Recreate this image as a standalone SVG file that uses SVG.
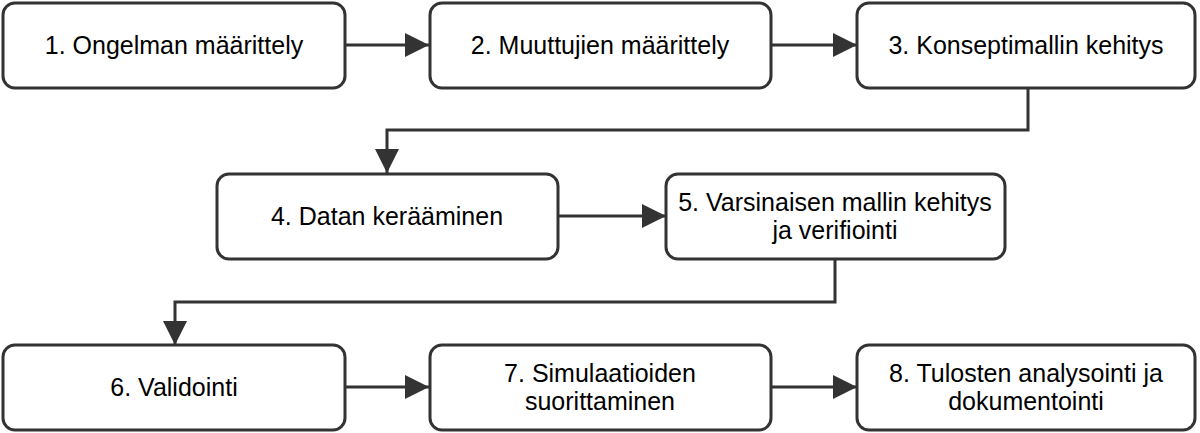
<svg xmlns="http://www.w3.org/2000/svg" width="1200" height="433" viewBox="0 0 1200 433">
<style>
.b{fill:#fff;stroke:#333;stroke-width:3}
.t{font-family:"Liberation Sans",Arial,sans-serif;font-size:25px;fill:#000;text-anchor:middle}
.c{fill:none;stroke:#333;stroke-width:3}
</style>
<defs>
<marker id="m" markerWidth="24" markerHeight="24" refX="24" refY="12" orient="auto" markerUnits="userSpaceOnUse"><path d="M0,0L24,12L0,24z" fill="#333"/></marker></defs>
<rect width="1200" height="433" fill="#fff"/>
<g id="connectors">
<path class="c" d="M345,45H429" marker-end="url(#m)"/>
<path class="c" d="M771,45H857" marker-end="url(#m)"/>
<path class="c" d="M1028,89V130H387V173" marker-end="url(#m)"/>
<path class="c" d="M558,216H666" marker-end="url(#m)"/>
<path class="c" d="M835,260V302H175V345" marker-end="url(#m)"/>
<path class="c" d="M345,387H429" marker-end="url(#m)"/>
<path class="c" d="M771,387H857" marker-end="url(#m)"/>
</g>
<g id="n1"><rect class="b" x="3" y="3" width="342" height="85" rx="12"/><text class="t" x="174" y="54">1. Ongelman määrittely</text></g>
<g id="n2"><rect class="b" x="430" y="3" width="341" height="85" rx="12"/><text class="t" x="600" y="54">2. Muuttujien määrittely</text></g>
<g id="n3"><rect class="b" x="857" y="3" width="338" height="85" rx="12"/><text class="t" x="1026" y="54">3. Konseptimallin kehitys</text></g>
<g id="n4"><rect class="b" x="217" y="174" width="341" height="85" rx="12"/><text class="t" x="387" y="225">4. Datan kerääminen</text></g>
<g id="n5"><rect class="b" x="666" y="174" width="339" height="85" rx="12"/><text class="t" x="835" y="211">5. Varsinaisen mallin kehitys</text><text class="t" x="835" y="239">ja verifiointi</text></g>
<g id="n6"><rect class="b" x="3" y="345" width="342" height="85" rx="12"/><text class="t" x="174" y="396">6. Validointi</text></g>
<g id="n7"><rect class="b" x="430" y="345" width="341" height="85" rx="12"/><text class="t" x="600" y="382">7. Simulaatioiden</text><text class="t" x="600" y="410">suorittaminen</text></g>
<g id="n8"><rect class="b" x="857" y="345" width="338" height="85" rx="12"/><text class="t" x="1026" y="382">8. Tulosten analysointi ja</text><text class="t" x="1026" y="410">dokumentointi</text></g>
</svg>
